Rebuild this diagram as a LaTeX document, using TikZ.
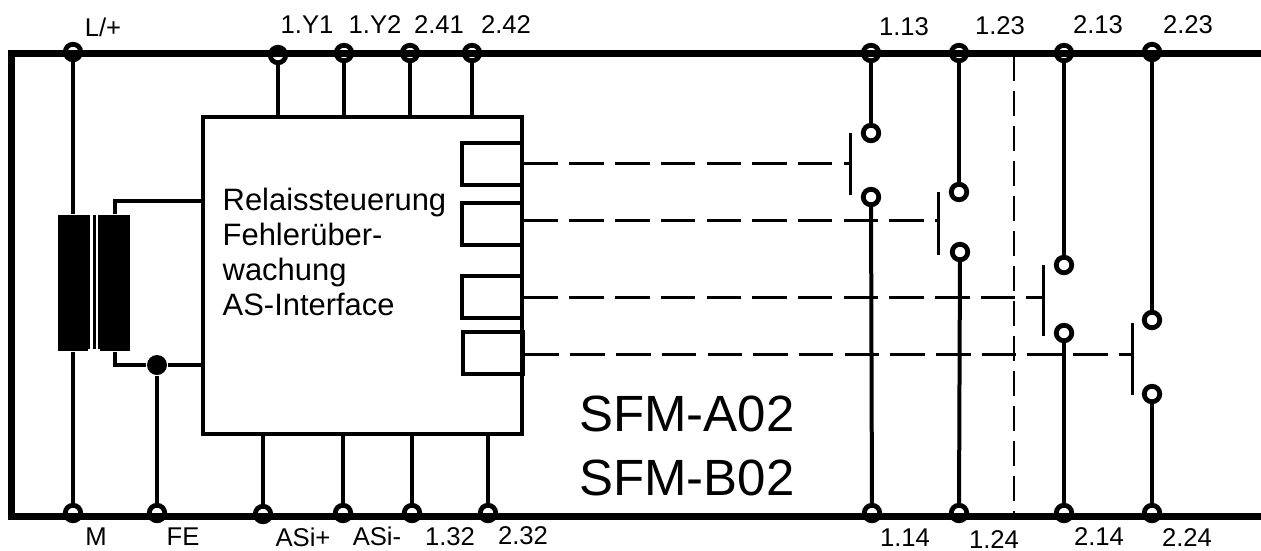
\documentclass[tikz,border=0pt]{standalone}
\usepackage{fontspec}
\setmainfont{Liberation Sans}
\tikzset{
  terminal/.style={circle,draw,fill=white,line width=.048cm,inner sep=0pt,minimum size=.155cm},
  wire/.style={line width=.04cm},
  relay/.style={draw,line width=.035cm,inner sep=0pt,minimum width=.6cm,minimum height=.42cm},
  coil/.style={fill=black,inner sep=0pt,minimum width=.3cm,minimum height=1.36cm},
  rod/.style={line width=.03cm},
  linkage/.style={line width=.03cm,dash pattern=on .345cm off .112cm},
  pin/.style={inner sep=0pt,font=\fontsize{7.3}{9}\selectfont},
  model/.style={inner sep=0pt,font=\fontsize{14.5}{17}\selectfont}
}
\begin{document}
\begin{tikzpicture}
    \useasboundingbox (0,0) rectangle (12.61,5.5);

    % Draw the terminals on the top rail
    \node[terminal] (tLp) at (0.73,4.98) {};
    \node[terminal] (tY1) at (2.78,4.95) {};
    \node[terminal] (tY2) at (3.44,4.97) {};
    \node[terminal] (t241) at (4.10,4.97) {};
    \node[terminal] (t242) at (4.72,4.97) {};
    \node[terminal] (t113) at (8.71,4.97) {};
    \node[terminal] (t123) at (9.59,4.97) {};
    \node[terminal] (t213) at (10.64,4.97) {};
    \node[terminal] (t223) at (11.52,4.98) {};

    % Draw the terminals on the bottom rail
    \node[terminal] (tM) at (0.73,0.37) {};
    \node[terminal] (tFE) at (1.57,0.37) {};
    \node[terminal] (tAp) at (2.63,0.36) {};
    \node[terminal] (tAm) at (3.43,0.37) {};
    \node[terminal] (t132) at (4.12,0.37) {};
    \node[terminal] (t232) at (4.88,0.37) {};
    \node[terminal] (t114) at (8.72,0.37) {};
    \node[terminal] (t124) at (9.59,0.37) {};
    \node[terminal] (t214) at (10.64,0.37) {};
    \node[terminal] (t224) at (11.52,0.37) {};

    % Draw the housing, open to the right
    \draw[line width=.07cm] (12.61,4.97) -- (0.12,4.97) -- (0.12,0.34) -- (12.61,0.34);

    % Separation between the two channels
    \draw[line width=.025cm,dash pattern=on .25cm off .1cm] (10.14,4.94) -- (10.14,0.36);

    % Draw the control block and its relay coils
    \node[draw,line width=.035cm,inner sep=0pt,minimum width=3.19cm,minimum height=3.17cm] (relais) at (3.625,2.745) {};
    \node[relay] (relay1) at (4.92,3.86) {};
    \node[relay] (relay2) at (4.92,3.26) {};
    \node[relay] (relay3) at (4.92,2.53) {};
    \node[relay] (relay4) at (4.93,1.97) {};
    \node[anchor=west,inner sep=0pt,align=left,font=\fontsize{8.8}{9.95}\selectfont] (ctrl) at (2.22,2.98)
        {Relaissteuerung\\Fehler\"uber-\\wachung\\AS-Interface};

    % Connect the block to the rails
    \draw[wire] (tY1) -- (tY1 |- relais.north);
    \draw[wire] (tY2) -- (tY2 |- relais.north);
    \draw[wire] (t241) -- (t241 |- relais.north);
    \draw[wire] (t242) -- (t242 |- relais.north);
    \draw[wire] (tAp) -- (tAp |- relais.south);
    \draw[wire] (tAm) -- (tAm |- relais.south);
    \draw[wire] (t132) -- (t132 |- relais.south);
    \draw[wire] (t232) -- (t232 |- relais.south);

    % Draw the transformer
    \node[coil] (coilA) at (0.73,2.67) {};
    \node[coil] (coilB) at (1.145,2.67) {};
    \fill (0.88,2.01) rectangle (1.00,3.35);
    \fill[white] (0.90,2.01) rectangle (0.925,3.35);
    \fill[white] (0.955,2.01) rectangle (0.98,3.35);
    \draw[wire] (tLp) -- (coilA.north);
    \draw[wire] (coilA.south) -- (tM);

    % Supply of the block, with the FE branch
    \coordinate (tapA) at (2.03,3.49);
    \coordinate (tapB) at (2.03,1.85);
    \node[circle,fill=black,inner sep=0pt,minimum size=.2cm] (dotFE) at (1.57,1.85) {};
    \draw[wire] (coilB.north) |- (tapA);
    \draw[wire] (coilB.south) |- (dotFE) -- (tapB);
    \draw[wire] (dotFE) -- (tFE);

    % Draw the contacts
    \node[terminal] (c113) at (8.71,4.17) {};
    \node[terminal] (c114) at (8.71,3.53) {};
    \node[terminal] (c123) at (9.59,3.58) {};
    \node[terminal] (c124) at (9.60,2.98) {};
    \node[terminal] (c213) at (10.64,2.85) {};
    \node[terminal] (c214) at (10.64,2.17) {};
    \node[terminal] (c223) at (11.52,2.30) {};
    \node[terminal] (c224) at (11.52,1.56) {};

    \draw[wire] (t113) -- (c113);
    \draw[wire] (c114) -- (t114);
    \draw[wire] (t123) -- (c123);
    \draw[wire] (c124) -- (t124);
    \draw[wire] (t213) -- (c213);
    \draw[wire] (c214) -- (t214);
    \draw[wire] (t223) -- (c223);
    \draw[wire] (c224) -- (t224);

    % Mark the push rods of the contacts
    \coordinate (rod1) at (8.50,3.87);
    \coordinate (rod2) at (9.38,3.30);
    \coordinate (rod3) at (10.43,2.53);
    \coordinate (rod4) at (11.32,1.96);
    \draw[rod] (8.50,4.17) -- (rod1) -- (8.50,3.55);
    \draw[rod] (9.38,3.58) -- (rod2) -- (9.38,2.95);
    \draw[rod] (10.43,2.85) -- (rod3) -- (10.43,2.14);
    \draw[rod] (11.32,2.27) -- (rod4) -- (11.32,1.55);

    % Mechanical links from the coils to the rods
    \draw[linkage] (relay1.east |- rod1) -- (rod1);
    \draw[linkage] (relay2.east |- rod2) -- (rod2);
    \draw[linkage] (relay3.east |- rod3) -- (rod3);
    \draw[linkage] (relay4.east |- rod4) -- (rod4);

    % Add the terminal labels
    \node[pin] (lLp) at (1.03,5.23) {L/+};
    \node[pin] (lY1) at (3.07,5.25) {1.Y1};
    \node[pin] (lY2) at (3.75,5.25) {1.Y2};
    \node[pin] (l241) at (4.39,5.25) {2.41};
    \node[pin] (l242) at (5.06,5.25) {2.42};
    \node[pin] (l113) at (9.04,5.23) {1.13};
    \node[pin] (l123) at (10.00,5.24) {1.23};
    \node[pin] (l213) at (10.98,5.25) {2.13};
    \node[pin] (l223) at (11.88,5.25) {2.23};
    \node[pin] (lM) at (0.96,0.13) {M};
    \node[pin] (lFE) at (1.83,0.13) {FE};
    \node[pin] (lAp) at (3.03,0.13) {ASi+};
    \node[pin] (lAm) at (3.77,0.14) {ASi-};
    \node[pin] (l132) at (4.50,0.13) {1.32};
    \node[pin] (l232) at (5.23,0.14) {2.32};
    \node[pin] (l114) at (9.05,0.12) {1.14};
    \node[pin] (l124) at (9.94,0.10) {1.24};
    \node[pin] (l214) at (10.99,0.13) {2.14};
    \node[pin] (l224) at (11.87,0.12) {2.24};

    % Device names
    \node[model] (nameA) at (6.87,1.36) {SFM-A02};
    \node[model] (nameB) at (6.87,0.72) {SFM-B02};

\end{tikzpicture}
\end{document}
